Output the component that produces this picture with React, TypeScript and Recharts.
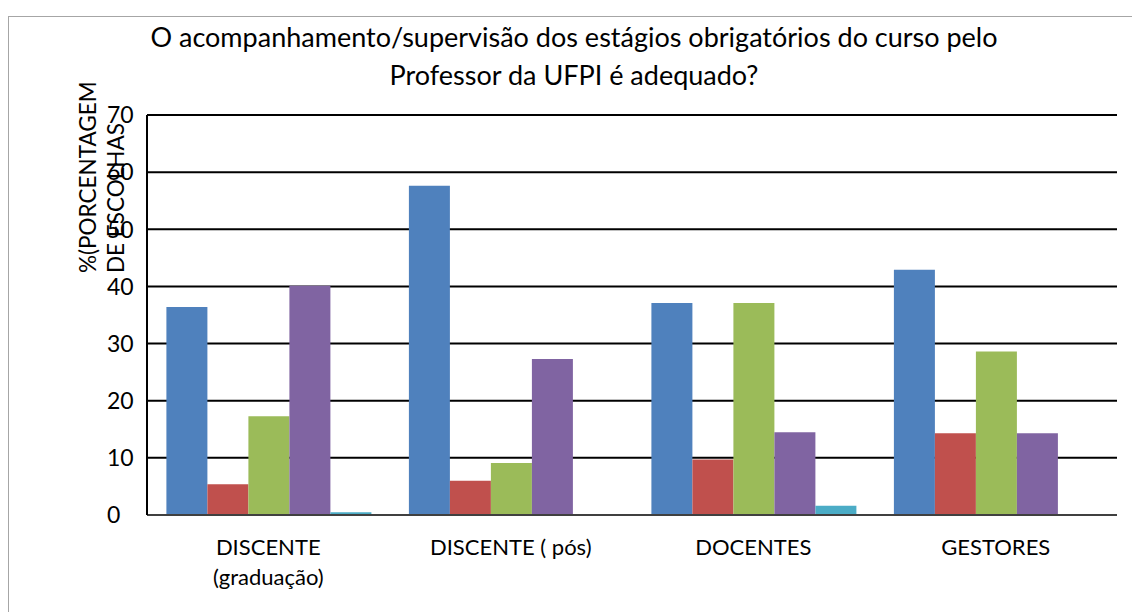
import { BarChart, Bar, XAxis, YAxis, CartesianGrid } from 'recharts'

const categories = ['DISCENTE\n(graduação)', 'DISCENTE ( pós)', 'DOCENTES', 'GESTORES']
const serie1 = [36.4, 57.6, 37.1, 42.9]
const serie2 = [5.4, 6.0, 9.7, 14.3]
const serie3 = [17.3, 9.1, 37.1, 28.6]
const serie4 = [40.1, 27.3, 14.5, 14.3]
const serie5 = [0.5, 0, 1.6, 0]
const yTicks = [0, 10, 20, 30, 40, 50, 60, 70]

const colors = ['#4F81BD', '#C0504D', '#9BBB59', '#8064A2', '#4BACC6']
const font = 'Lato, Carlito, Calibri, sans-serif'

const data = categories.map((c, i) => ({
  name: c,
  s1: serie1[i],
  s2: serie2[i],
  s3: serie3[i],
  s4: serie4[i],
  s5: serie5[i],
}))

function CategoryTick({ x, y, payload }: any) {
  const lines = String(payload.value).split('\n')
  return (
    <text x={x} y={y} textAnchor="middle" fill="#000" fontSize={22} fontFamily={font}>
      {lines.map((l, i) => (
        <tspan key={i} x={x} y={y + 40 + i * 30}>
          {l}
        </tspan>
      ))}
    </text>
  )
}

// excel left-aligns these labels, so "0" sits flush with the "1" of "10"
function ValueTick({ y, payload }: any) {
  return (
    <text x={107} y={y} dy="0.36em" textAnchor="start" fill="#000" fontSize={23} fontFamily={font}>
      {payload.value}
    </text>
  )
}

export default function App() {
  return (
    <div style={{ position: 'absolute', left: 0, top: 0, width: 1132, height: 612, background: '#fff', overflow: 'hidden' }}>
      <div
        style={{
          position: 'absolute',
          left: 8,
          top: 16,
          width: 1200,
          height: 700,
          border: '1px solid #a6a6a6',
        }}
      />
      <BarChart
        width={1132}
        height={612}
        data={data}
        margin={{ top: 115, right: 15, bottom: 0, left: 0 }}
        barCategoryGap="8%"
        barGap={0}
        style={{ position: 'absolute', left: 0, top: 0 }}
      >
        <CartesianGrid vertical={false} stroke="#000" strokeWidth={2} />
        <XAxis
          dataKey="name"
          height={97}
          axisLine={{ stroke: '#404040', strokeWidth: 2 }}
          tickLine={false}
          tickSize={0}
          tickMargin={0}
          interval={0}
          tick={<CategoryTick />}
        />
        <YAxis
          width={147}
          domain={[0, 70]}
          ticks={yTicks}
          axisLine={{ stroke: '#000', strokeWidth: 2 }}
          tickLine={false}
          tickSize={0}
          tick={<ValueTick />}
        />
        <Bar dataKey="s1" fill={colors[0]} isAnimationActive={false} />
        <Bar dataKey="s2" fill={colors[1]} isAnimationActive={false} />
        <Bar dataKey="s3" fill={colors[2]} isAnimationActive={false} />
        <Bar dataKey="s4" fill={colors[3]} isAnimationActive={false} />
        <Bar dataKey="s5" fill={colors[4]} isAnimationActive={false} />
      </BarChart>
      <svg width={1132} height={612} style={{ position: 'absolute', left: 0, top: 0, pointerEvents: 'none' }}>
        <text x={574} y={47} textAnchor="middle" fontSize={27} fontFamily={font} fill="#000">
          O acompanhamento/supervisão dos estágios obrigatórios do curso pelo
        </text>
        <text x={574} y={85} textAnchor="middle" fontSize={27} fontFamily={font} fill="#000">
          Professor da UFPI é adequado?
        </text>
        <text transform="translate(96,273) rotate(-90)" fontSize={22.5} fontFamily={font} fill="#000">
          %(PORCENTAGEM
        </text>
        <text transform="translate(124,273) rotate(-90)" fontSize={22.5} fontFamily={font} fill="#000">
          DE ESCOLHAS
        </text>
      </svg>
    </div>
  )
}
